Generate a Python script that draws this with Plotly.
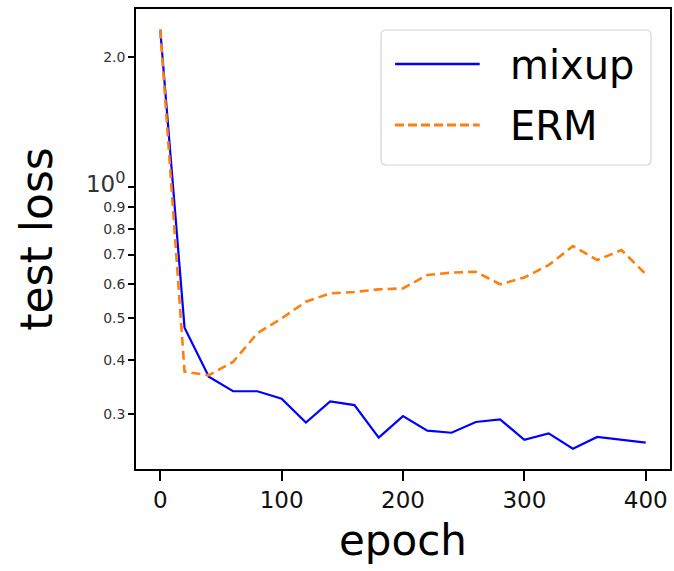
import plotly.graph_objects as go

epochs = [0, 20, 40, 60, 80, 100, 120, 140, 160, 180, 200, 220, 240, 260, 280, 300, 320, 340, 360, 380, 400]
mixup_loss = [2.31, 0.475, 0.366, 0.339, 0.339, 0.326, 0.287, 0.321, 0.315, 0.265, 0.297, 0.275, 0.272, 0.288, 0.292, 0.262, 0.271, 0.250, 0.266, 0.262, 0.258]
erm_loss = [2.31, 0.376, 0.369, 0.396, 0.461, 0.499, 0.545, 0.570, 0.574, 0.582, 0.585, 0.628, 0.636, 0.639, 0.598, 0.620, 0.662, 0.732, 0.680, 0.717, 0.631]

series_names = ["mixup", "ERM"]
series_colors = ["#0000ff", "#ff7f0e"]

x_ticks = [0, 100, 200, 300, 400]
y_tickvals = [0.3, 0.4, 0.5, 0.6, 0.7, 0.8, 0.9, 1.0, 2.0]
y_ticktext = ["0.3", "0.4", "0.5", "0.6", "0.7", "0.8", "0.9",
              "<span style='font-size:23px'>10<sup>0</sup></span>", "2.0"]

FONT = "DejaVu Sans"
W, H = 674, 571
ML, MR, MT, MB = 136, 2, 9, 102
PW, PH = W - ML - MR, H - MT - MB

def px_x(x):
    return (x - ML) / PW

def px_y(y):
    return (H - MB - y) / PH

fig = go.Figure()
fig.add_trace(go.Scatter(x=epochs, y=mixup_loss, mode="lines", name=series_names[0],
                         line=dict(color=series_colors[0], width=2.2), showlegend=False))
fig.add_trace(go.Scatter(x=epochs, y=erm_loss, mode="lines", name=series_names[1],
                         line=dict(color=series_colors[1], width=2.6, dash="9px,5px"),
                         showlegend=False))

# legend box (rounded)
x0, x1, y0, y1 = px_x(382), px_x(653), px_y(165), px_y(30)
rx, ry = 5 / PW, 5 / PH
path = (f"M {x0+rx},{y0} L {x1-rx},{y0} Q {x1},{y0} {x1},{y0+ry} "
        f"L {x1},{y1-ry} Q {x1},{y1} {x1-rx},{y1} L {x0+rx},{y1} "
        f"Q {x0},{y1} {x0},{y1-ry} L {x0},{y0+ry} Q {x0},{y0} {x0+rx},{y0} Z")
shapes = [dict(type="path", xref="paper", yref="paper", path=path,
               line=dict(color="#d4d4d4", width=1.2), fillcolor="white", layer="above")]
annotations = []
rows = [64, 125]
dashes = ["solid", "9px,4px"]
widths = [2.5, 3.2]
for name, color, ry_px, dash, lw in zip(series_names, series_colors, rows, dashes, widths):
    shapes.append(dict(type="line", xref="paper", yref="paper",
                       x0=px_x(396), x1=px_x(481), y0=px_y(ry_px), y1=px_y(ry_px),
                       line=dict(color=color, width=lw, dash=dash), layer="above"))
    annotations.append(dict(xref="paper", yref="paper", x=px_x(509), y=px_y(ry_px + 1),
                            xanchor="left", yanchor="middle", showarrow=False, text=name,
                            font=dict(size=40, family=FONT, color="black")))

fig.update_layout(
    width=W, height=H,
    margin=dict(l=ML, r=MR, t=MT, b=MB),
    paper_bgcolor="white", plot_bgcolor="white",
    font=dict(family=FONT, color="black"),
    showlegend=False,
    shapes=shapes, annotations=annotations,
    xaxis=dict(range=[-20, 420], tickvals=x_ticks, ticktext=[str(v) for v in x_ticks],
               showgrid=False, zeroline=False, showline=True, mirror=True,
               linecolor="black", linewidth=1.5, ticks="outside", ticklen=10,
               tickwidth=1.5, tickcolor="black",
               tickfont=dict(size=23, family=FONT, color="#111111"),
               title=dict(text="epoch", font=dict(size=42, family=FONT, color="black"), standoff=13)),
    yaxis=dict(type="log", range=[-0.649, 0.411], tickvals=y_tickvals, ticktext=y_ticktext,
               showgrid=False, zeroline=False, showline=True, mirror=True,
               linecolor="black", linewidth=1.5, ticks="outside", ticklen=6,
               tickwidth=1.5, tickcolor="black",
               tickfont=dict(size=14, family=FONT, color="#333333"),
               title=dict(text="test loss", font=dict(size=44, family=FONT, color="black"), standoff=20)),
)

fig.write_html("out.html")
